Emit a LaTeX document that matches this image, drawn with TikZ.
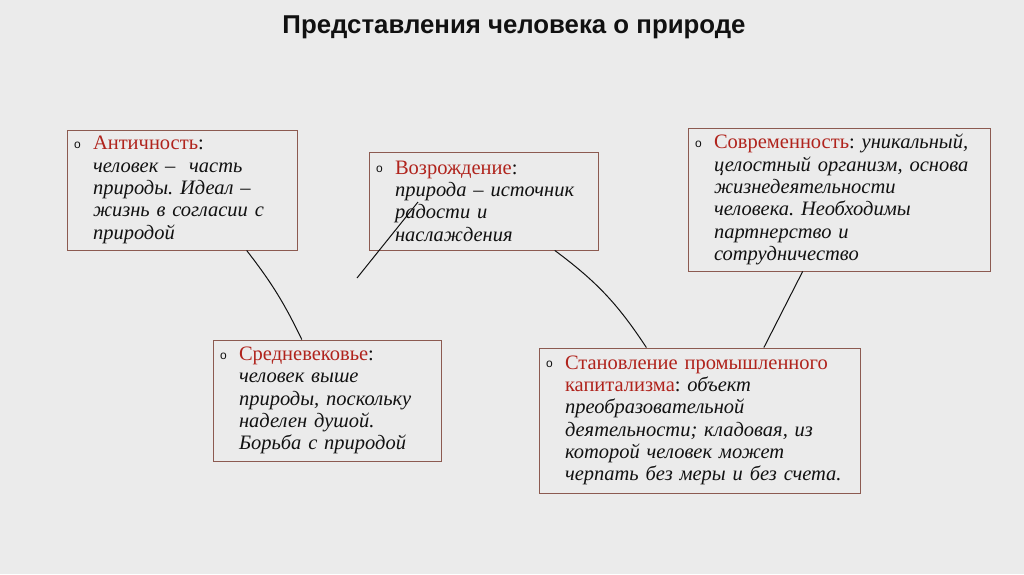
\documentclass[tikz,border=0pt]{standalone}
\usepackage{fontspec}
\setmainfont{Liberation Serif}
\setsansfont{Liberation Sans}
\usetikzlibrary{calc}
\definecolor{natBg}{HTML}{EBEBEB}
\definecolor{natFrame}{HTML}{8C5A50}
\definecolor{natRed}{HTML}{B0231C}
\definecolor{natInk}{HTML}{111111}

% box text: indented block, bullet hanging left of the first line
\newcommand{\epochtext}[1]{\leftskip=11pt\rightskip=-60pt plus 1fil\relax #1\par}
\newcommand{\bul}{\hspace*{-19pt}\makebox[19pt][l]{\raisebox{1.5pt}{\upshape\sffamily\fontsize{12}{12}\selectfont o}}}
\newcommand{\hd}[1]{\textup{\textcolor{natRed}{#1}}}

\begin{document}
\begin{tikzpicture}[
        x=1pt,
        y=-1pt,
        box/.style={rectangle, draw=natFrame, line width=0.9pt, fill=natBg,
                    align=left, text=natInk, inner xsep=0pt, inner ysep=0pt,
                    font=\fontsize{20.5}{22.3}\selectfont\itshape\frenchspacing},
        link/.style={draw=natInk, line width=1pt},
        heading/.style={font=\sffamily\bfseries\fontsize{25.8}{30}\selectfont, text=natInk}
    ]

    \fill[natBg] (0,0) rectangle (1024,574);
    \useasboundingbox (0,0) rectangle (1024,574);

    % Title
    \node[heading, anchor=base] (title) at (514,33) {Представления человека о природе};

    % Epochs, upper row
    \node[box, minimum width=230pt, minimum height=120pt, text width=200pt] (antiq) at (182,190)
        {\epochtext{\bul\hd{Античность}\textup{:}\\ человек –\ \ часть\\ природы. Идеал –\\ жизнь в согласии с\\ природой}};
    \node[box, minimum width=229pt, minimum height=98pt, text width=199pt] (renais) at (483.5,201)
        {\epochtext{\bul\hd{Возрождение}\textup{:}\\ природа – источник\\ радости и\\ наслаждения}};
    \node[box, minimum width=302pt, minimum height=143pt, text width=272pt] (modern) at (839,199.5)
        {\epochtext{\bul\hd{Современность}\textup{:} уникальный,\\ целостный организм, основа\\ жизнедеятельности\\ человека. Необходимы\\ партнерство и\\ сотрудничество}};

    % Epochs, lower row
    \node[box, minimum width=228pt, minimum height=121pt, text width=198pt] (medie) at (327,400.5)
        {\epochtext{\bul\hd{Средневековье}\textup{:}\\ человек выше\\ природы, поскольку\\ наделен душой.\\ Борьба с природой}};
    \node[box, minimum width=321pt, minimum height=145pt, text width=291pt] (capit) at (699.5,420.5)
        {\epochtext{\bul\hd{Становление промышленного}\\ \hd{капитализма}\textup{:} объект\\ преобразовательной\\ деятельности; кладовая, из\\ которой человек может\\ черпать без меры и без счета.}};

    % Connectors
    \coordinate (strayA) at (357,278);
    \coordinate (strayB) at (418,202);
    \draw[link] ($(antiq.south west)!0.78!(antiq.south east)$) to[bend left=6]
        ($(medie.north west)!0.39!(medie.north east)$);
    \draw[link] (strayA) -- (strayB);
    \draw[link] ($(renais.south west)!0.81!(renais.south east)$) to[bend left=10]
        ($(capit.north west)!0.335!(capit.north east)$);
    \draw[link] ($(modern.south west)!0.38!(modern.south east)$) --
        ($(capit.north west)!0.70!(capit.north east)$);

\end{tikzpicture}
\end{document}
